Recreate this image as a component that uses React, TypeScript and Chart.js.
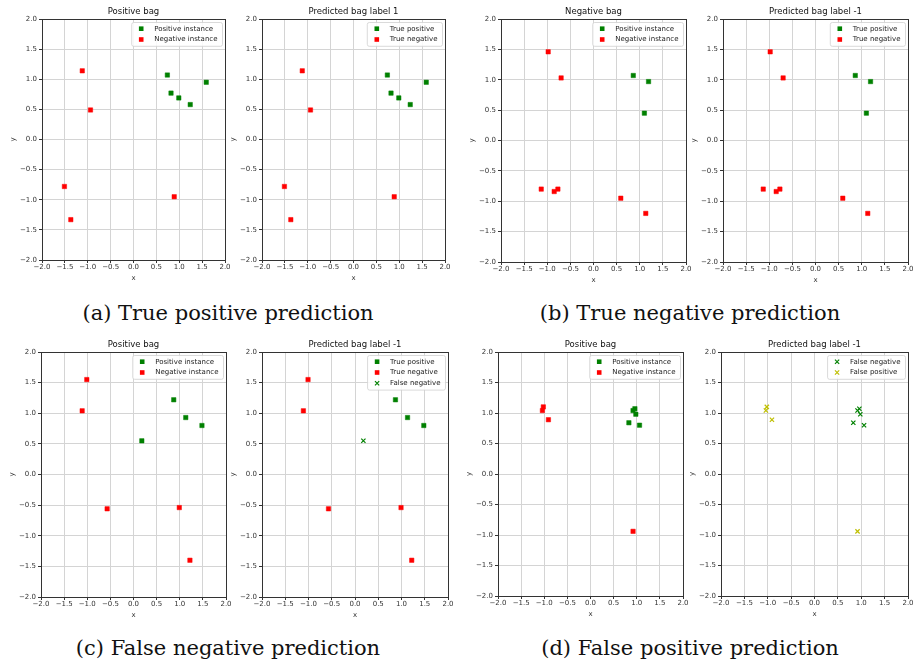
import React, { useEffect, useRef } from 'react';
import { Chart, registerables } from 'chart.js';

Chart.register(...registerables);

// ---------- data ----------
const TICK_VALUES = [-2, -1.5, -1, -0.5, 0, 0.5, 1, 1.5, 2];
const TICK_LABELS = ['−2.0', '−1.5', '−1.0', '−0.5', '0.0', '0.5', '1.0', '1.5', '2.0'];

// (a) true positive prediction
const A_POSITIVE = [[0.74, 1.07], [0.82, 0.77], [0.99, 0.69], [1.24, 0.58], [1.59, 0.95]];
const A_NEGATIVE = [[-1.12, 1.14], [-0.94, 0.49], [-1.51, -0.78], [-1.37, -1.33], [0.89, -0.95]];
// (b) true negative prediction
const B_POSITIVE = [[0.86, 1.07], [1.19, 0.97], [1.1, 0.45]];
const B_NEGATIVE = [[-0.98, 1.46], [-0.7, 1.03], [-1.13, -0.8], [-0.85, -0.84], [-0.77, -0.8], [0.59, -0.95], [1.13, -1.2]];
// (c) false negative prediction
const C_TRUE_POSITIVE = [[0.87, 1.22], [1.13, 0.93], [1.48, 0.8]];
const C_FALSE_NEGATIVE = [[0.18, 0.55]];
const C_POSITIVE = [...C_TRUE_POSITIVE, ...C_FALSE_NEGATIVE];
const C_NEGATIVE = [[-1.01, 1.55], [-1.11, 1.04], [-0.57, -0.56], [0.99, -0.54], [1.22, -1.4]];
// (d) false positive prediction
const D_POSITIVE = [[0.92, 1.04], [0.96, 1.07], [0.98, 0.98], [0.83, 0.84], [1.06, 0.8]];
const D_NEGATIVE = [[-1.02, 1.1], [-1.04, 1.04], [-0.91, 0.89], [0.92, -0.94]];

const CAPTIONS = ['(a) True positive prediction', '(b) True negative prediction', '(c) False negative prediction', '(d) False positive prediction'];

// ---------- styles ----------
const GREEN = '#008000';
const RED = '#ff0000';
const YELLOW = '#bfbf00';
const FONT_FAMILY = '"DejaVu Sans", sans-serif';
const Y_AXIS_W = 40;
const X_AXIS_H = 30;
const TITLE_H = 19;
const RIGHT_PAD = 12;

type Series = { label: string; data: number[][]; color: string; marker: 'rect' | 'crossRot' };
type Panel = { title: string; L: number; T: number; W: number; H: number; series: Series[] };

const PANELS: Panel[] = [
  { title: 'Positive bag', L: 42, T: 19, W: 183, H: 241, series: [
    { label: 'Positive instance', data: A_POSITIVE, color: GREEN, marker: 'rect' },
    { label: 'Negative instance', data: A_NEGATIVE, color: RED, marker: 'rect' }] },
  { title: 'Predicted bag label 1', L: 262, T: 19, W: 183, H: 241, series: [
    { label: 'True positive', data: A_POSITIVE, color: GREEN, marker: 'rect' },
    { label: 'True negative', data: A_NEGATIVE, color: RED, marker: 'rect' }] },
  { title: 'Negative bag', L: 501, T: 19, W: 185, H: 243, series: [
    { label: 'Positive instance', data: B_POSITIVE, color: GREEN, marker: 'rect' },
    { label: 'Negative instance', data: B_NEGATIVE, color: RED, marker: 'rect' }] },
  { title: 'Predicted bag label -1', L: 723, T: 19, W: 185, H: 243, series: [
    { label: 'True positive', data: B_POSITIVE, color: GREEN, marker: 'rect' },
    { label: 'True negative', data: B_NEGATIVE, color: RED, marker: 'rect' }] },
  { title: 'Positive bag', L: 41, T: 352, W: 185, H: 245, series: [
    { label: 'Positive instance', data: C_POSITIVE, color: GREEN, marker: 'rect' },
    { label: 'Negative instance', data: C_NEGATIVE, color: RED, marker: 'rect' }] },
  { title: 'Predicted bag label -1', L: 262, T: 352, W: 186, H: 245, series: [
    { label: 'True positive', data: C_TRUE_POSITIVE, color: GREEN, marker: 'rect' },
    { label: 'True negative', data: C_NEGATIVE, color: RED, marker: 'rect' },
    { label: 'False negative', data: C_FALSE_NEGATIVE, color: GREEN, marker: 'crossRot' }] },
  { title: 'Positive bag', L: 498, T: 352, W: 185, H: 244, series: [
    { label: 'Positive instance', data: D_POSITIVE, color: GREEN, marker: 'rect' },
    { label: 'Negative instance', data: D_NEGATIVE, color: RED, marker: 'rect' }] },
  { title: 'Predicted bag label -1', L: 721, T: 352, W: 187, H: 244, series: [
    { label: 'False negative', data: D_POSITIVE, color: GREEN, marker: 'crossRot' },
    { label: 'False positive', data: D_NEGATIVE, color: YELLOW, marker: 'crossRot' }] },
];

function drawMarker(ctx: CanvasRenderingContext2D, marker: string, cx: number, cy: number, color: string) {
  ctx.save();
  if (marker === 'rect') {
    ctx.fillStyle = color;
    ctx.fillRect(cx - 2.3, cy - 2.3, 4.6, 4.6);
  } else {
    ctx.strokeStyle = color;
    ctx.lineWidth = 1.2;
    ctx.beginPath();
    ctx.moveTo(cx - 2.1, cy - 2.1); ctx.lineTo(cx + 2.1, cy + 2.1);
    ctx.moveTo(cx - 2.1, cy + 2.1); ctx.lineTo(cx + 2.1, cy - 2.1);
    ctx.stroke();
  }
  ctx.restore();
}

const mplPlugin = {
  id: 'mplFrameLegend',
  afterDatasetsDraw(chart: any) {
    const { ctx, chartArea: a } = chart;
    ctx.save();
    // frame (all four spines)
    const l = Math.round(a.left) + 0.5, t = Math.round(a.top) + 0.5;
    const r = Math.round(a.right) + 0.5, b = Math.round(a.bottom) + 0.5;
    ctx.strokeStyle = '#333';
    ctx.lineWidth = 1;
    ctx.strokeRect(l, t, r - l, b - t);
    // legend
    const items = chart.data.datasets;
    ctx.font = '7px ' + FONT_FAMILY;
    const textW = Math.max(...items.map((d: any) => ctx.measureText(d.label).width));
    const w = 22.5 + textW + 5;
    const h = 13 + (items.length - 1) * 10.8;
    const x = a.right - 2.5 - w;
    const y = a.top + 3.5;
    ctx.beginPath();
    if ((ctx as any).roundRect) (ctx as any).roundRect(x, y, w, h, 2); else ctx.rect(x, y, w, h);
    ctx.fillStyle = 'rgba(255,255,255,0.85)';
    ctx.fill();
    ctx.strokeStyle = '#d0d0d0';
    ctx.lineWidth = 0.8;
    ctx.stroke();
    items.forEach((d: any, i: number) => {
      const cy = y + 6.2 + i * 10.8;
      drawMarker(ctx, d.pointStyle, x + 9.5, cy, d.borderColor);
      ctx.fillStyle = '#222';
      ctx.textAlign = 'left';
      ctx.textBaseline = 'middle';
      ctx.fillText(d.label, x + 22.5, cy);
    });
    ctx.restore();
  },
};

const tickLabel = (v: any) => {
  const i = TICK_VALUES.indexOf(Number(v));
  return i >= 0 ? TICK_LABELS[i] : '';
};

function PanelChart({ p }: { p: Panel }) {
  const ref = useRef<HTMLCanvasElement>(null);
  const cw = p.W + Y_AXIS_W + RIGHT_PAD;
  const ch = p.H + TITLE_H + X_AXIS_H;
  useEffect(() => {
    if (!ref.current) return;
    const tickFont = { family: FONT_FAMILY, size: 7, lineHeight: 1.2 };
    const grid = { color: '#d4d4d4', lineWidth: 1, drawTicks: true, tickLength: 3, tickColor: '#333' };
    const chart = new Chart(ref.current, {
      type: 'scatter',
      data: {
        datasets: p.series.map((s) => ({
          label: s.label,
          data: s.data.map(([x, y]) => ({ x, y })),
          pointStyle: s.marker,
          pointRadius: s.marker === 'rect' ? 3.1 : 3,
          pointBorderWidth: s.marker === 'rect' ? 0.5 : 1.2,
          backgroundColor: s.color,
          borderColor: s.color,
        })),
      },
      options: {
        responsive: false,
        animation: false,
        events: [],
        layout: { padding: { left: 0, top: 0, right: RIGHT_PAD, bottom: 0 }, autoPadding: false },
        plugins: {
          legend: { display: false },
          tooltip: { enabled: false },
          title: {
            display: true, text: p.title, fullSize: false, color: '#111',
            font: { family: FONT_FAMILY, size: 8.5, lineHeight: 1.2, weight: 'normal' },
            padding: { top: 6.6, bottom: 2.2 },
          },
        },
        scales: {
          x: {
            type: 'linear', min: -2, max: 2,
            afterBuildTicks: (s: any) => { s.ticks = TICK_VALUES.map((v) => ({ value: v })); },
            afterFit: (s: any) => { s.height = X_AXIS_H; s.paddingLeft = 0; s.paddingRight = 0; },
            ticks: { callback: tickLabel, font: tickFont, color: '#333', padding: 0, maxRotation: 0, autoSkip: false },
            grid,
            border: { display: false },
            title: { display: true, text: 'x', color: '#333', font: tickFont, padding: { top: 0, bottom: 7.8 } },
          },
          y: {
            type: 'linear', min: -2, max: 2,
            afterBuildTicks: (s: any) => { s.ticks = TICK_VALUES.map((v) => ({ value: v })); },
            afterFit: (s: any) => { s.width = Y_AXIS_W; s.paddingTop = 0; s.paddingBottom = 0; },
            ticks: { callback: tickLabel, font: tickFont, color: '#333', padding: 2, autoSkip: false },
            grid,
            border: { display: false },
            title: { display: true, text: 'y', color: '#333', font: tickFont, padding: { top: 6.8, bottom: 0 } },
          },
        },
      } as any,
      plugins: [mplPlugin],
    });
    return () => chart.destroy();
  }, [p]);
  return (
    <canvas
      ref={ref}
      width={cw}
      height={ch}
      style={{ position: 'absolute', left: p.L - Y_AXIS_W, top: p.T - TITLE_H, width: cw, height: ch }}
    />
  );
}

export default function App() {
  const captionStyle = (left: number, top: number): React.CSSProperties => ({
    position: 'absolute', left, top, width: 456, textAlign: 'center',
    fontFamily: '"DejaVu Serif", serif', fontSize: 21, lineHeight: '24px', color: '#111',
  });
  return (
    <div style={{ position: 'absolute', left: 0, top: 0, width: 913, height: 666, background: '#fff', overflow: 'hidden' }}>
      {PANELS.map((p, i) => <PanelChart key={i} p={p} />)}
      <div style={captionStyle(0, 301)}>{CAPTIONS[0]}</div>
      <div style={captionStyle(462, 301)}>{CAPTIONS[1]}</div>
      <div style={captionStyle(0, 636)}>{CAPTIONS[2]}</div>
      <div style={captionStyle(462, 636)}>{CAPTIONS[3]}</div>
    </div>
  );
}
